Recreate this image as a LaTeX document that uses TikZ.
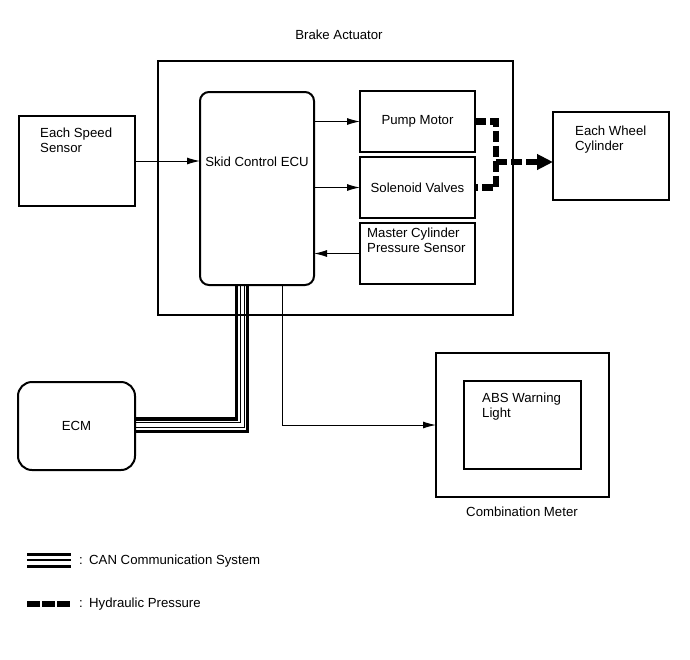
\documentclass[tikz,border=0pt]{standalone}
\usepackage{fontspec}
\setmainfont{Liberation Sans}
\usetikzlibrary{arrows.meta,calc}
\begin{document}
\begin{tikzpicture}[x=1pt,y=-1pt,
  box/.style={draw, line width=2pt, rectangle, anchor=north west, inner sep=0pt, outer sep=0pt, font=\fontsize{13.2}{15.5}\selectfont},
  rbox/.style={box, rounded corners=#1},
  txt/.style={inner sep=0pt, font=\fontsize{13.2}{15.5}\selectfont, align=left},
  sig/.style={draw, line width=1pt, -{Latex[length=13pt,width=7pt]}},
  hyd/.style={draw, line width=6.5pt, dash pattern=on 11pt off 4pt},
]
\useasboundingbox (0,0) rectangle (690,659);

% boxes
\node[box, minimum width=355, minimum height=254] (ba) at (158,61) {};
\node[rbox=9pt, minimum width=114, minimum height=193] (ecu) at (200,92) {};
\node[box, minimum width=115, minimum height=61] (pm) at (360,91) {Pump Motor};
\node[box, minimum width=115, minimum height=61] (sv) at (360,157) {Solenoid Valves};
\node[box, minimum width=115, minimum height=61] (mc) at (360,223) {};
\node[box, minimum width=116, minimum height=90] (ss) at (19,116) {};
\node[box, minimum width=116, minimum height=88] (wc) at (553,112) {};
\node[rbox=14pt, minimum width=117, minimum height=88] (ecm) at (18,382) {ECM};
\node[box, minimum width=173, minimum height=144] (cm) at (436,353) {};
\node[box, minimum width=117, minimum height=88] (abs) at (464,381) {};

% texts
\node[txt] (batxt) at (339,35) {Brake Actuator};
\node[txt] (ecutxt) at (257,162) {Skid Control ECU};
\node[txt, anchor=base west] (mctxt) at (367,252.5) {Master Cylinder\\Pressure Sensor};
\node[txt, anchor=base west] (sstxt) at (40,152.5) {Each Speed\\Sensor};
\node[txt, anchor=base west] (wctxt) at (575,150.5) {Each Wheel\\Cylinder};
\node[txt, anchor=base west] (abstxt) at (482,417.5) {ABS Warning\\Light};
\node[txt] (cmtxt) at (522,512) {Combination Meter};

% signal connectors
\draw[sig] (ss.east) -- (ss.east -| ecu.west);
\draw[sig] (pm.west -| ecu.east) -- (pm.west);
\draw[sig] (sv.west -| ecu.east) -- (sv.west);
\draw[sig] (mc.west) -- (mc.west -| ecu.east);
\draw[sig] ([xshift=25pt]ecu.south) |- (cm.west);

% hydraulic
\coordinate (hj) at (496,162);
\draw[hyd] (pm.east) -| (hj) |- (sv.east);
\draw[hyd, -{Triangle[length=16pt,width=15pt]}] (hj) -- (hj -| wc.west);

% CAN bus
\foreach \dx/\dy/\w in {-20.5/7/3.4, -16.5/3.5/0.7, -13/-1/0.7, -9.5/-5.5/3.4}
  \draw[line width=\w] ([xshift=\dx pt]ecu.south) |- ([yshift=\dy pt]ecm.east);

% legend
\coordinate (lg1a) at (27,554); \coordinate (lg1b) at (71,554);
\coordinate (lg2a) at (27,560); \coordinate (lg2b) at (71,560);
\coordinate (lg3a) at (27,566); \coordinate (lg3b) at (71,566);
\draw[line width=3] (lg1a) -- (lg1b);
\draw[line width=1.4] (lg2a) -- (lg2b);
\draw[line width=3] (lg3a) -- (lg3b);
\node[txt] (col1) at (81,561) {:};
\node[txt, anchor=west] (cantxt) at (89,561) {CAN Communication System};
\coordinate (lh1) at (27,604); \coordinate (lh2) at (70,604);
\draw[line width=5.5, dash pattern=on 12.5pt off 2.5pt] (lh1) -- (lh2);
\node[txt] (col2) at (81,604) {:};
\node[txt, anchor=west] (hydtxt) at (89,604) {Hydraulic Pressure};
\end{tikzpicture}
\end{document}
